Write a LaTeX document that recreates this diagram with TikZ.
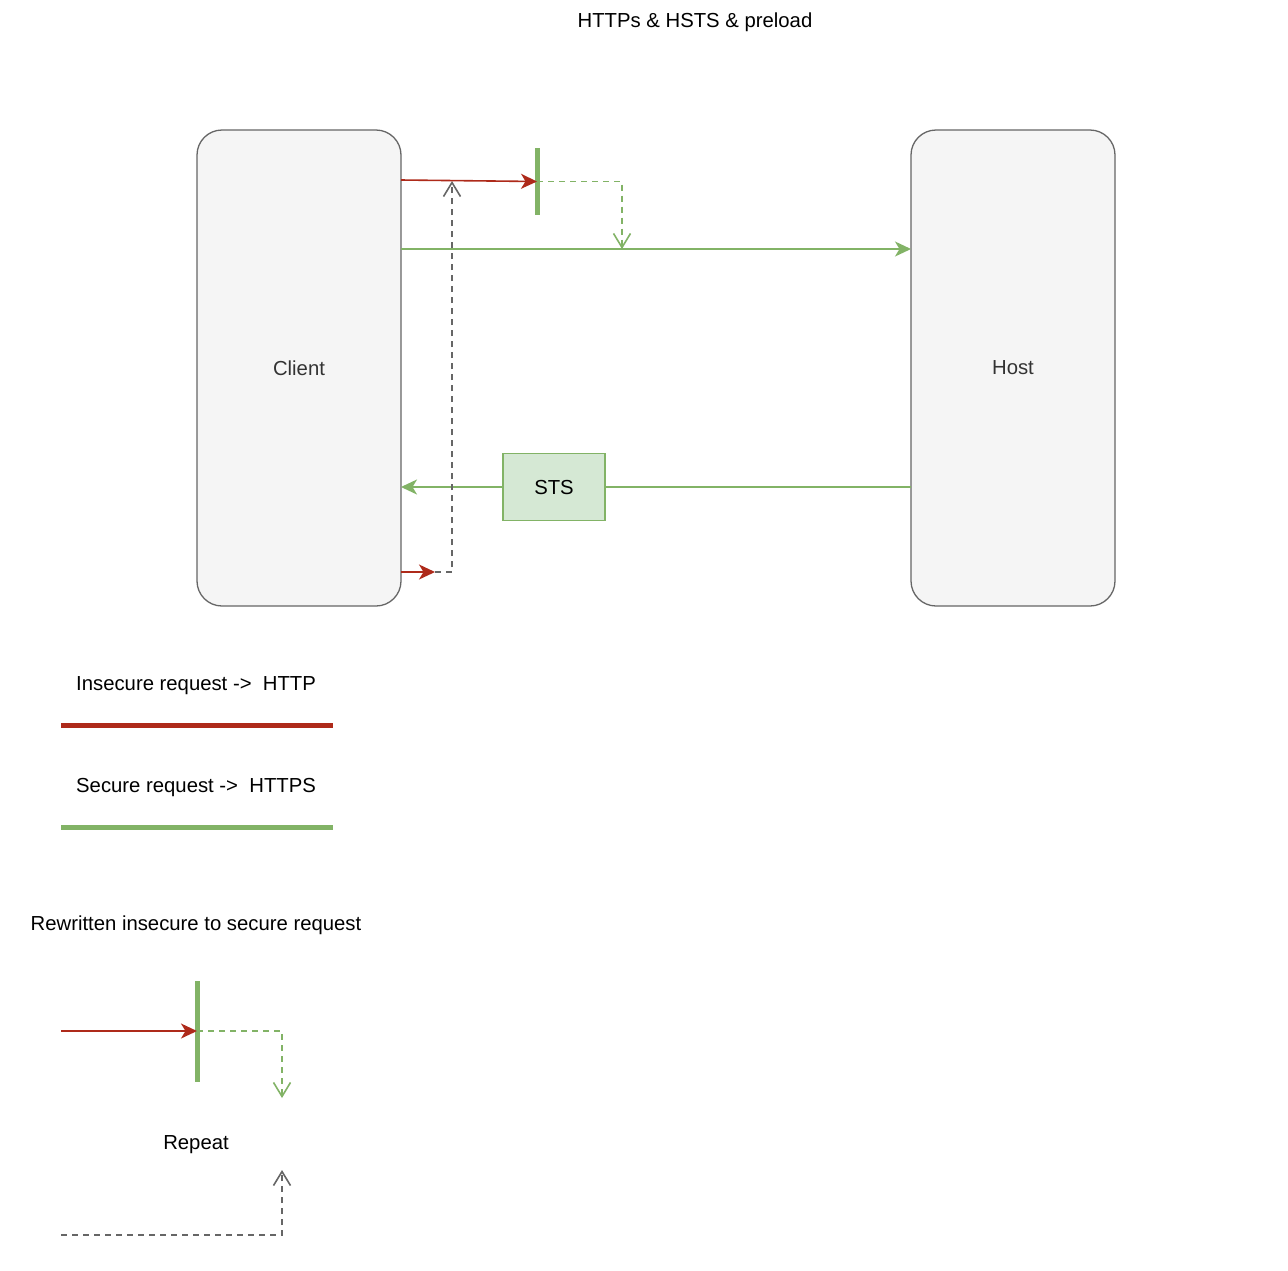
\documentclass[tikz,border=0pt]{standalone}
\usepackage{fontspec}
\setmainfont{Liberation Sans}
\usetikzlibrary{arrows.meta}
\definecolor{httpred}{HTML}{AE2A1A}
\definecolor{httpsgreen}{HTML}{82B366}
\definecolor{stsfill}{HTML}{D5E8D4}
\definecolor{boxfill}{HTML}{F5F5F5}
\definecolor{boxline}{HTML}{666666}
\definecolor{boxtext}{HTML}{333333}
\tikzset{
  txt/.style={font=\fontsize{20.3}{24}\selectfont, inner sep=0pt, text=black},
  endpoint/.style={draw=boxline, fill=boxfill, rounded corners=25pt, minimum width=204pt, minimum height=476pt, line width=1.3pt, font=\fontsize{20.3}{24}\selectfont, text=boxtext, text depth=0pt},
  stsbox/.style={draw=httpsgreen, fill=stsfill, minimum width=102pt, minimum height=67pt, line width=1.3pt, font=\fontsize{20.3}{24}\selectfont, text depth=0pt},
  bar/.style={fill=httpsgreen, minimum width=5pt, inner sep=0pt},
  insecure/.style={draw=httpred, line width=1.6pt, -{Stealth[length=16pt,width=15pt,inset=4.5pt]}},
  secure/.style={draw=httpsgreen, line width=1.6pt},
  securearr/.style={secure, -{Stealth[length=16pt,width=15pt,inset=4.5pt]}},
  rewritten/.style={draw=httpsgreen, line width=1.6pt, dash pattern=on 6pt off 5pt, -{Straight Barb[length=14pt,width=17pt,line width=1.6pt]}},
  repeatline/.style={draw=boxline, line width=1.6pt, dash pattern=on 6pt off 5pt, -{Straight Barb[length=14pt,width=17pt,line width=1.6pt]}},
  legendline/.style={line width=5pt}
}
\begin{document}
\begin{tikzpicture}[x=1pt,y=-1pt]
\useasboundingbox (0,0) rectangle (1288,1270);
\fill[white] (0,0) rectangle (1288,1270);

\node[txt] (title) at (695,22.5) {HTTPs \& HSTS \& preload};

\node[endpoint] (client) at (299,368) {Client};
\node[endpoint] (host) at (1013,368) {Host};
\node[stsbox] (sts) at (554,487) {STS};
\node[bar, minimum height=67pt] (bar1) at (537,181.5) {};

% coordinates
\coordinate (cA) at (401,180);
\coordinate (cB) at (622,249);
\coordinate (cC) at (401,249);
\coordinate (cD) at (911,249);
\coordinate (cE) at (911,487);
\coordinate (cF) at (401,487);
\coordinate (cG) at (401,572);
\coordinate (cH) at (435,572);
\coordinate (cI) at (452,181);

% connectors
\draw[secure] (cE) -- (sts.east);
\draw[securearr] (sts.west) -- (cF);
\draw[repeatline] (cH) -| (cI);
\draw[securearr] (cC) -- (cD);
\draw[insecure] (cA) -- (bar1.center);
\draw[rewritten] (bar1.center) -| (cB);
\draw[insecure] (cG) -- (cH);

% legend
\node[txt, anchor=west] (l1) at (76,685.5) {Insecure request ->\ \ HTTP};
\coordinate (l1a) at (61,725);
\coordinate (l1b) at (333,725);
\draw[legendline, httpred] (l1a) -- (l1b);
\node[txt, anchor=west] (l2) at (76,787.5) {Secure request ->\ \ HTTPS};
\coordinate (l2a) at (61,827);
\coordinate (l2b) at (333,827);
\draw[legendline, httpsgreen] (l2a) -- (l2b);

\node[txt] (l3) at (196,925.5) {Rewritten insecure to secure request};
\node[bar, minimum height=101pt] (bar2) at (197,1031) {};
\coordinate (rA) at (61,1031);
\coordinate (rB) at (282,1098);
\draw[insecure] (rA) -- (bar2.center);
\draw[rewritten] (bar2.center) -| (rB);

\node[txt] (l4) at (196,1144.5) {Repeat};
\coordinate (pA) at (61,1235);
\coordinate (pB) at (282,1170);
\draw[repeatline] (pA) -| (pB);
\end{tikzpicture}
\end{document}
